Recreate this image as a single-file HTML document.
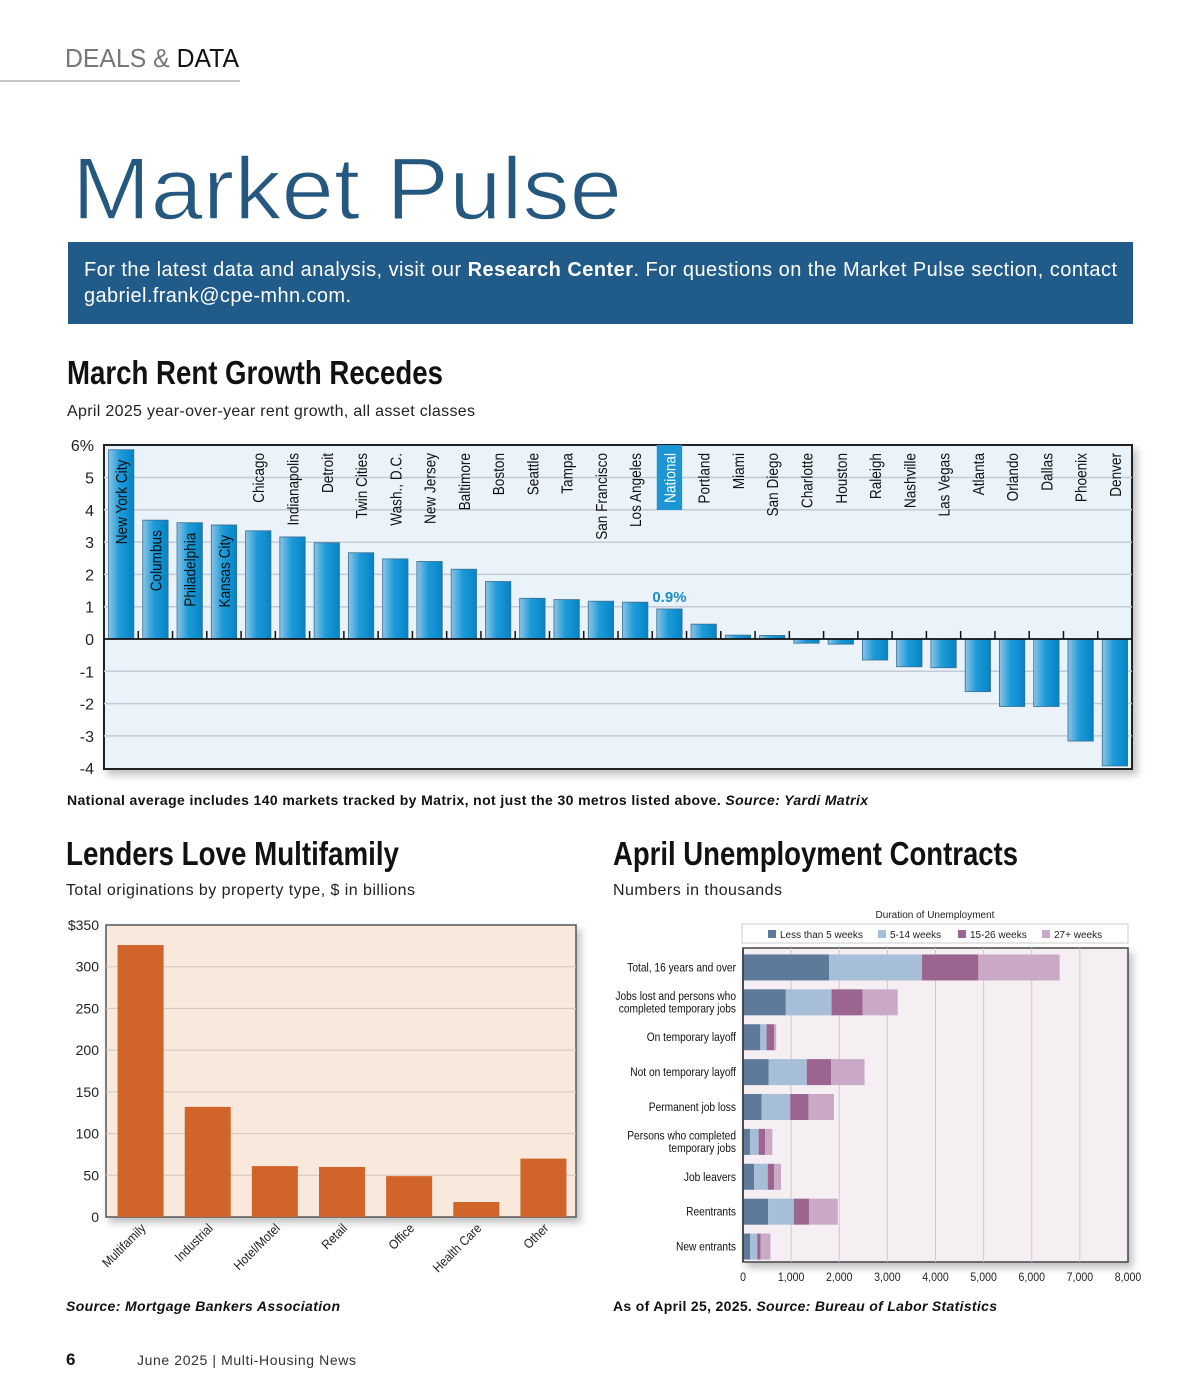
<!DOCTYPE html>
<html><head><meta charset="utf-8"><style>
html,body{margin:0;padding:0;background:#fff;}
svg{display:block;font-family:"Liberation Sans",sans-serif;}
</style></head><body>
<svg id="pg" width="1200" height="1400" viewBox="0 0 1200 1400" xmlns="http://www.w3.org/2000/svg">
<defs>
<linearGradient id="bg1" x1="0" x2="1" y1="0" y2="0"><stop offset="0" stop-color="#8cc4e6"/><stop offset="0.45" stop-color="#1d9ad8"/><stop offset="1" stop-color="#0584c6"/></linearGradient>
<filter id="sh" x="-5%" y="-5%" width="115%" height="120%"><feDropShadow dx="4" dy="5" stdDeviation="4" flood-color="#000" flood-opacity="0.25"/></filter>
</defs>
<text x="65" y="67" font-size="26" fill="#777" textLength="174" lengthAdjust="spacingAndGlyphs">DEALS &amp; <tspan fill="#111">DATA</tspan></text>
<rect x="0" y="80" width="240" height="2" fill="#c4c4c4"/>
<text x="72" y="219" font-size="88" fill="#25587f" stroke="#fff" stroke-width="1.5" textLength="550" lengthAdjust="spacingAndGlyphs">Market Pulse</text>
<rect x="68" y="242" width="1065" height="82" fill="#215b89"/>
<text x="84" y="276" font-size="20" fill="#fff" textLength="1033" lengthAdjust="spacing">For the latest data and analysis, visit our <tspan font-weight="bold">Research Center</tspan>. For questions on the Market Pulse section, contact</text>
<text x="84" y="302" font-size="20" fill="#fff" textLength="267" lengthAdjust="spacing">gabriel.frank@cpe-mhn.com.</text>

<text x="67" y="384" font-size="33" font-weight="bold" fill="#111" textLength="376" lengthAdjust="spacingAndGlyphs">March Rent Growth Recedes</text>
<text x="67" y="416" font-size="16" fill="#222" textLength="408" lengthAdjust="spacing">April 2025 year-over-year rent growth, all asset classes</text>
<g id="rent"></g>
<text x="67" y="805" font-size="14" font-weight="bold" fill="#111" textLength="801" lengthAdjust="spacing">National average includes 140 markets tracked by Matrix, not just the 30 metros listed above. <tspan font-style="italic">Source: Yardi Matrix</tspan></text>

<text x="66" y="865" font-size="33" font-weight="bold" fill="#111" textLength="333" lengthAdjust="spacingAndGlyphs">Lenders Love Multifamily</text>
<text x="66" y="895" font-size="16" fill="#222" textLength="349" lengthAdjust="spacing">Total originations by property type, $ in billions</text>
<g id="lend"></g>
<text x="66" y="1311" font-size="14" font-weight="bold" font-style="italic" fill="#111" textLength="274" lengthAdjust="spacing">Source: Mortgage Bankers Association</text>

<text x="613" y="865" font-size="33" font-weight="bold" fill="#111" textLength="405" lengthAdjust="spacingAndGlyphs">April Unemployment Contracts</text>
<text x="613" y="895" font-size="16" fill="#222" textLength="169" lengthAdjust="spacing">Numbers in thousands</text>
<g id="unemp"></g>
<text x="613" y="1311" font-size="14" font-weight="bold" fill="#111" textLength="384" lengthAdjust="spacing">As of April 25, 2025. <tspan font-style="italic">Source: Bureau of Labor Statistics</tspan></text>

<text x="66" y="1365" font-size="17" font-weight="bold" fill="#111">6</text>
<text x="137" y="1365" font-size="14" fill="#333" textLength="219" lengthAdjust="spacing">June 2025  |  Multi-Housing News</text>
</svg>
<script>
const NS="http://www.w3.org/2000/svg";
function mk(p,t,a){const e=document.createElementNS(NS,t);for(const k in a)e.setAttribute(k,a[k]);p.appendChild(e);return e;}

// ---- Rent growth data ----
const rentCities=["New York City","Columbus","Philadelphia","Kansas City","Chicago","Indianapolis","Detroit","Twin Cities","Wash., D.C.","New Jersey","Baltimore","Boston","Seattle","Tampa","San Francisco","Los Angeles","National","Portland","Miami","San Diego","Charlotte","Houston","Raleigh","Nashville","Las Vegas","Atlanta","Orlando","Dallas","Phoenix","Denver"];
const rentValues=[5.86,3.68,3.6,3.53,3.35,3.16,2.98,2.67,2.48,2.4,2.16,1.78,1.26,1.22,1.17,1.14,0.93,0.46,0.12,0.11,-0.13,-0.16,-0.65,-0.86,-0.89,-1.63,-2.09,-2.09,-3.16,-3.93];
const rentTicks=[6,5,4,3,2,1,0,-1,-2,-3,-4];

// ---- Originations data ----
const lendCats=["Multifamily","Industrial","Hotel/Motel","Retail","Office","Health Care","Other"];
const lendValues=[326,132,61,60,49,18,70];
const lendTicks=[0,50,100,150,200,250,300,350];

// ---- Unemployment data ----
const unCats=[["Total, 16 years and over"],["Jobs lost and persons who","completed temporary jobs"],["On temporary layoff"],["Not on temporary layoff"],["Permanent job loss"],["Persons who completed","temporary jobs"],["Job leavers"],["Reentrants"],["New entrants"]];
const unSeries=["Less than 5 weeks","5-14 weeks","15-26 weeks","27+ weeks"];
const unLess5=[1790,890,360,530,385,145,230,520,150];
const un5to14=[1930,950,130,795,595,180,285,535,145];
const un15to26=[1170,645,155,505,380,135,130,320,70];
const un27plus=[1690,730,45,695,530,150,145,595,205];
const unTicks=[0,1000,2000,3000,4000,5000,6000,7000,8000];

// ===== Rent chart =====
(function(){
const g=document.getElementById('rent');
const L=104,R=1132,T=445,B=769;
const y=v=>639-v*32.3;
const slot=(R-L)/rentCities.length;
const x=i=>L+i*slot;
const bg=mk(g,'rect',{x:L,y:T,width:R-L,height:B-T,fill:'#eaf2fa',stroke:'#222','stroke-width':2,filter:'url(#sh)'});

rentTicks.forEach(t=>{
 if(t!==6&&t!==-4&&t!==0){const l=mk(g,'line',{x1:L,x2:R,y1:y(t),y2:y(t),stroke:'#c3ccd6','stroke-width':1.5});
 }
 const tx=mk(g,'text',{x:94,y:y(t)+6,'font-size':16,'text-anchor':'end',fill:'#222'});
 tx.textContent=t===6?'6%':String(t);
 
});
rentCities.forEach((c,i)=>{
 const v=rentValues[i];const x0=x(i)+4.5,w=slot*0.74;
 const top=Math.min(y(v),y(0)),h=Math.abs(y(v)-y(0));
 const b=mk(g,'rect',{x:x0,y:top,width:w,height:h,fill:'url(#bg1)',stroke:'#3a6f90','stroke-width':0.8});
 
 const cx=x0+w/2;
 let endY=453; if(v>3.45) endY=y(v)+10;
 if(c==='National'){
  const hl=mk(g,'rect',{x:x0,y:445,width:w,height:65,fill:'#1d95d3'});
  
  const vl=mk(g,'text',{x:cx,y:y(v)-7,'font-size':15,'font-weight':'bold','text-anchor':'middle',fill:'#1d8cc8'});
  vl.textContent=v.toFixed(1)+'%';
  
 }
 const t=mk(g,'text',{transform:`translate(${cx+6},${endY}) rotate(-90) scale(0.85,1)`,'font-size':16,'text-anchor':'end',fill:c==='National'?'#fff':'#111'});
 t.textContent=c;
 
 if(i>0){const tk=mk(g,'line',{x1:x(i),x2:x(i),y1:y(0),y2:y(0)-8,stroke:'#111','stroke-width':1.5});
 }
});
const z=mk(g,'line',{x1:L,x2:R,y1:y(0),y2:y(0),stroke:'#111','stroke-width':1.8});

})();

// ===== Originations chart =====
(function(){
const g=document.getElementById('lend');
const L=106,R=576,T=925,B=1217;
const y=v=>B-v*(B-T)/350;
const slot=(R-L)/lendCats.length;
const bg=mk(g,'rect',{x:L,y:T,width:R-L,height:B-T,fill:'#f9e9dc',stroke:'#555','stroke-width':1.5,filter:'url(#sh)'});

lendTicks.forEach(t=>{
 if(t>0&&t<350){const l=mk(g,'line',{x1:L,x2:R,y1:y(t),y2:y(t),stroke:'#d2c6bc','stroke-width':1});
 }
 const tx=mk(g,'text',{x:99,y:y(t)+5,'font-size':14,'text-anchor':'end',fill:'#222'});
 tx.textContent=t===350?'$350':String(t);
 
});
lendCats.forEach((c,i)=>{
 const w=46,x0=L+i*slot+(slot-w)/2+1;
 const b=mk(g,'rect',{x:x0,y:y(lendValues[i]),width:w,height:B-y(lendValues[i]),fill:'#d1642a'});
 
 const t=mk(g,'text',{transform:`translate(${x0+w/2+6},${B+12}) rotate(-45) scale(0.9,1)`,'font-size':13,'text-anchor':'end',fill:'#222'});
 t.textContent=c;
 
});
})();

// ===== Unemployment chart =====
(function(){
const g=document.getElementById('unemp');
const L=743,R=1128,T=948,B=1262;
const x=v=>L+v*(R-L)/8000;
const rowH=(B-T)/unCats.length;
const colors=['#5e7a9b','#a6bed7','#9b6590','#c9a9c6'];
const series=[unLess5,un5to14,un15to26,un27plus];
const tt=mk(g,'text',{x:935,y:918,'font-size':10,'text-anchor':'middle',fill:'#222'});
tt.textContent='Duration of Unemployment';

const lb=mk(g,'rect',{x:742,y:924,width:386,height:19,fill:'#fff',stroke:'#ccc','stroke-width':1});

const lx=[768,878,958,1042];
unSeries.forEach((s,i)=>{
 const r=mk(g,'rect',{x:lx[i],y:930,width:8,height:8,fill:colors[i]});
 
 const t=mk(g,'text',{x:lx[i]+12,y:938,'font-size':10,fill:'#222'});t.textContent=s;
 
});
const bg=mk(g,'rect',{x:L,y:T,width:R-L,height:B-T,fill:'#f5eef3',stroke:'#444','stroke-width':1.5,filter:'url(#sh)'});

unTicks.forEach(t=>{
 if(t>0&&t<8000){const l=mk(g,'line',{x1:x(t),x2:x(t),y1:T,y2:B,stroke:'#cfc8cd','stroke-width':1});
 }
 const tx=mk(g,'text',{transform:`translate(${x(t)},1281) scale(0.88,1)`,'font-size':12,'text-anchor':'middle',fill:'#222'});
 tx.textContent=t.toLocaleString('en-US');
 
});
unCats.forEach((c,i)=>{
 const cy=T+rowH*(i+0.5)+2;let acc=0;
 series.forEach((s,k)=>{
  const r=mk(g,'rect',{x:x(acc),y:cy-13,width:x(acc+s[i])-x(acc),height:26,fill:colors[k]});
  
  acc+=s[i];
 });
 c.forEach((ln,j)=>{
  const t=mk(g,'text',{transform:`translate(736,${cy+4+(j-(c.length-1)/2)*12.5}) scale(0.85,1)`,'font-size':12,'text-anchor':'end',fill:'#111'});
  t.textContent=ln;
  
 });
});
const ax=mk(g,'line',{x1:L,x2:L,y1:T,y2:B,stroke:'#333','stroke-width':1.5});

})();
</script>
</body></html>
